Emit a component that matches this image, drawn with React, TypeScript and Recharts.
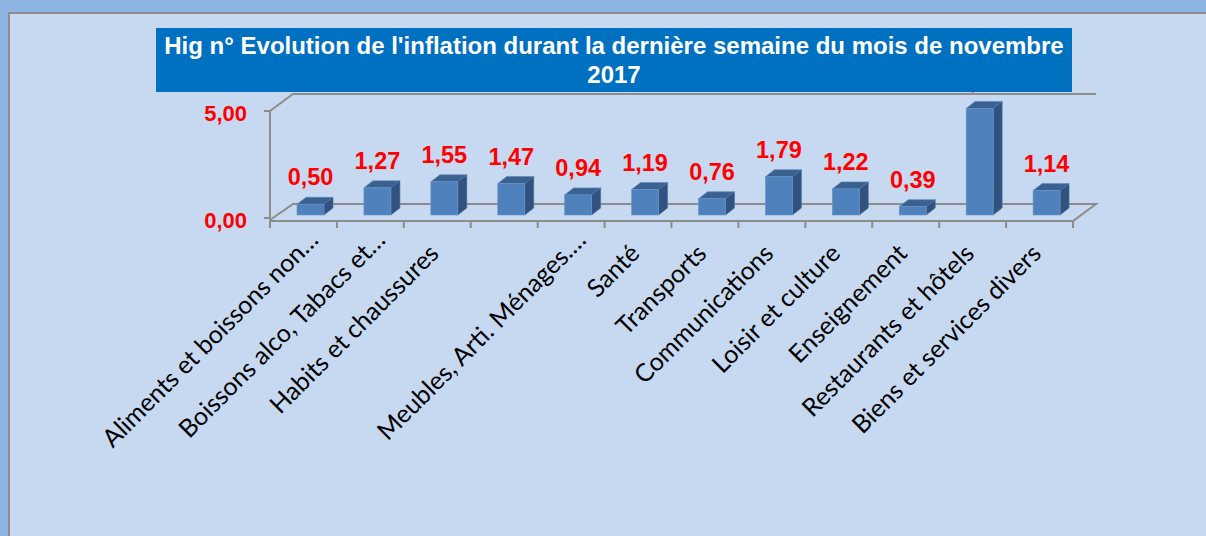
import React from 'react';
import { BarChart, Bar, XAxis, YAxis, LabelList, Customized, usePlotArea } from 'recharts';

const categories = [
  'Aliments et boissons non…',
  'Boissons alco, Tabacs et…',
  'Habits et chaussures',
  '',
  'Meubles, Arti. Ménages.…',
  'Santé',
  'Transports',
  'Communications',
  'Loisir et culture',
  'Enseignement',
  'Restaurants et hôtels',
  'Biens et services divers',
];
const values = [0.5, 1.27, 1.55, 1.47, 0.94, 1.19, 0.76, 1.79, 1.22, 0.39, 4.98, 1.14];
const yTicks = [0, 5];
const titleLine1 = "Hig n° Evolution de l'inflation durant la dernière semaine du mois de novembre";
const titleLine2 = '2017';

const data = categories.map((name, i) => ({ key: `c${i}`, name, value: values[i] }));

const fmt = (v: number) => v.toFixed(2).replace('.', ',');

const FRONT_DX = 7;
const FRONT_DY = -3;
const DEPTH_X = 9;
const DEPTH_Y = 7;
const GRID = '#8C8C8C';

const Bar3D = (props: any) => {
  const { x, y, width, height } = props;
  if (x == null || height == null) return null;
  const fx = x + FRONT_DX;
  const fy = y + FRONT_DY;
  const w = width;
  const h = height;
  const top = `M${fx},${fy} L${fx + DEPTH_X},${fy - DEPTH_Y} L${fx + w + DEPTH_X},${fy - DEPTH_Y} L${fx + w},${fy} Z`;
  const side = `M${fx + w},${fy} L${fx + w + DEPTH_X},${fy - DEPTH_Y} L${fx + w + DEPTH_X},${fy + h - DEPTH_Y} L${fx + w},${fy + h} Z`;
  return (
    <g>
      <path d={top} fill="#3B6191" stroke="#5A86BA" strokeWidth={0.6} />
      <path d={side} fill="#31527F" stroke="#4A74A6" strokeWidth={0.6} />
      <rect x={fx} y={fy} width={w} height={h} fill="#4F81BD" stroke="#6A95C8" strokeWidth={0.6} />
    </g>
  );
};

const ValueLabel = (props: any) => {
  const { x, y, width, value } = props;
  if (x == null) return null;
  const cx = x + FRONT_DX + width / 2;
  const by = y + FRONT_DY - 19;
  return (
    <text x={cx} y={by} textAnchor="middle" fill="#FF0000" fontFamily="'Liberation Sans', Arial, sans-serif" fontWeight="bold" fontSize={23.5}>
      {fmt(value)}
    </text>
  );
};

const XTick = (props: any) => {
  const { x, y, payload } = props;
  const label: string = payload && payload.value;
  if (!label) return null;
  const s = label.endsWith('…') ? 19 : 0;
  const ax = x + 3 + 0.707 * s;
  const ay = y - 0.707 * s;
  return (
    <text x={ax} y={ay} transform={`rotate(-45 ${ax} ${ay})`} textAnchor="end" fontFamily="Lato, 'Open Sans', sans-serif" fontSize={25} fill="#000">
      {label}
    </text>
  );
};

const YTick = (props: any) => {
  const { x, y, payload } = props;
  return (
    <text x={x} y={y} dy={10} textAnchor="end" fill="#FF0000" fontFamily="'Liberation Sans', Arial, sans-serif" fontWeight="bold" fontSize={22}>
      {fmt(payload.value)}
    </text>
  );
};

const Frame = () => {
  const pa: any = usePlotArea();
  if (!pa) return null;
  const L = pa.x;
  const R = pa.x + pa.width;
  const T = pa.y;
  const B = pa.y + pa.height;
  const dx = 23;
  const dy = 17;
  const floorFront = B + 3;
  const floorBack = floorFront - dy;
  const n = categories.length;
  const step = (R - L) / n;
  const ticks = Array.from({ length: n + 1 }, (_, i) => L + i * step);
  return (
    <g stroke={GRID} strokeWidth={2} fill="none">
      <polyline points={`${L},${T} ${L + dx},${T - dy} ${R + dx},${T - dy}`} />
      <polyline points={`${L},${floorFront - 1} ${L + dx},${floorBack} ${R + dx},${floorBack} ${R},${floorFront} ${L},${floorFront}`} />
      <line x1={L} y1={T} x2={L} y2={floorFront} />
      {ticks.map((tx, i) => (
        <line key={i} x1={tx} y1={floorFront} x2={tx} y2={floorFront + 7} />
      ))}
    </g>
  );
};

export default function App() {
  return (
    <div style={{ position: 'fixed', left: 0, top: 0, width: 1206, height: 536, background: '#8DB4E2', overflow: 'hidden' }}>
      <div style={{ position: 'absolute', left: 8, top: 12, width: 1220, height: 560, background: '#C6D9F1', border: '2px solid #8C8C8C', boxSizing: 'border-box' }} />
      <div style={{ position: 'absolute', left: 0, top: 0 }}>
        <BarChart width={1206} height={536} data={data} margin={{ top: 111, right: 133, bottom: 258, left: 200 }} barSize={27}>
          <Customized component={Frame} />
          <XAxis dataKey="name" interval={0} axisLine={false} tickLine={false} tickSize={0} tickMargin={37} tick={<XTick />} height={60} />
          <YAxis type="number" domain={[0, 5]} ticks={yTicks} width={70} axisLine={false} tickLine={{ stroke: GRID, strokeWidth: 2 }} tickSize={6} tickMargin={17} tick={<YTick />} />
          <Bar dataKey="value" shape={<Bar3D />} isAnimationActive={false}>
            <LabelList dataKey="value" content={<ValueLabel />} />
          </Bar>
        </BarChart>
      </div>
      <div style={{ position: 'absolute', left: 156, top: 28, width: 916, height: 64, background: '#0070C0', color: '#FFFFFF', fontFamily: "'Liberation Sans', Arial, sans-serif", fontWeight: 'bold', fontSize: 24, lineHeight: '29px', textAlign: 'center', paddingTop: 3, boxSizing: 'border-box', zIndex: 5, whiteSpace: 'nowrap' }}>
        <div>{titleLine1}</div>
        <div>{titleLine2}</div>
      </div>
    </div>
  );
}
